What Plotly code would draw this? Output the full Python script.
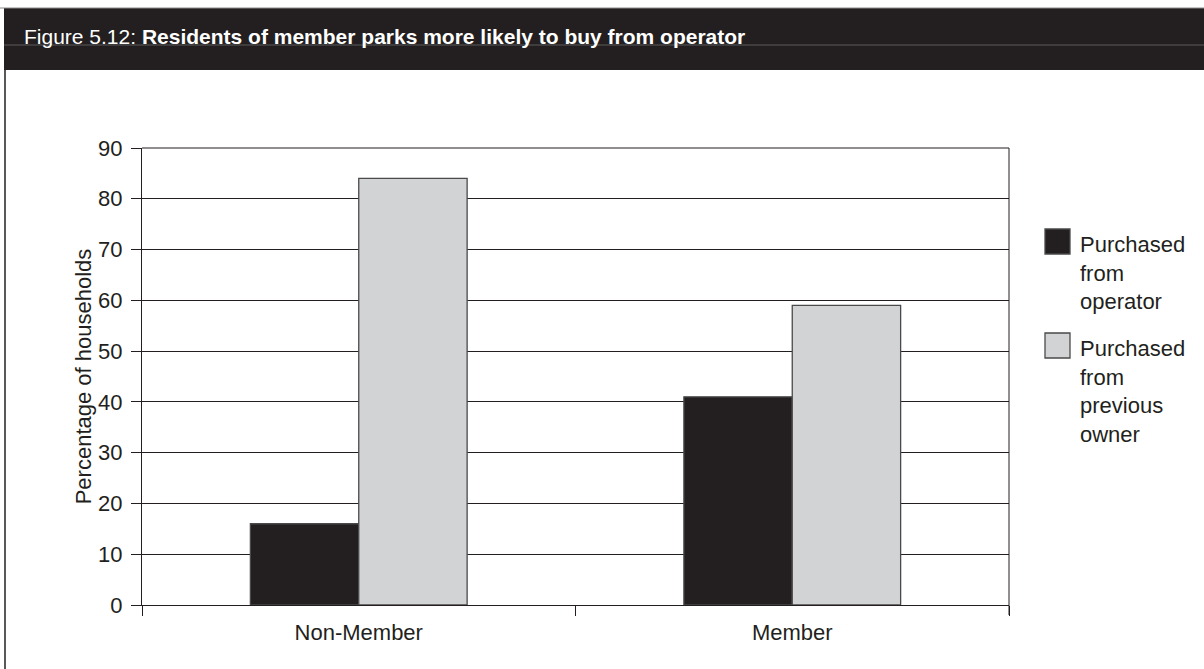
import plotly.graph_objects as go

# Survey results: where residents bought their home, by park membership
categories = ["Non-Member", "Member"]
from_operator = [16, 41]
from_previous_owner = [84, 59]
series_names = ["Purchased<br>from<br>operator",
                "Purchased<br>from<br>previous<br>owner"]
y_ticks = [0, 10, 20, 30, 40, 50, 60, 70, 80, 90]

W, H = 1204, 669
M_L, M_R, M_T, M_B = 142, 195, 148, 64
PW, PH = W - M_L - M_R, H - M_T - M_B

INK = "#231f20"
LIGHT = "#d1d3d4"
EDGE = "#4a4a4a"
FONT = "Liberation Sans, Arial, sans-serif"


def px_x(px):
    return (px - M_L) / PW


def px_y(py):
    return (H - M_B - py) / PH


fig = go.Figure()
fig.add_trace(go.Bar(
    x=categories, y=from_operator, name=series_names[0], showlegend=False,
    marker=dict(color=INK, line=dict(color=EDGE, width=1.3)),
))
fig.add_trace(go.Bar(
    x=categories, y=from_previous_owner, name=series_names[1], showlegend=False,
    marker=dict(color=LIGHT, line=dict(color=EDGE, width=1.3)),
))

shapes = [
    # header band
    dict(type="rect", xref="paper", yref="paper",
         x0=px_x(4), x1=px_x(W + 2), y0=px_y(70), y1=px_y(8),
         fillcolor=INK, line=dict(width=0), layer="above"),
    dict(type="line", xref="paper", yref="paper",
         x0=px_x(0), x1=px_x(W), y0=px_y(8), y1=px_y(8),
         line=dict(color="#8a8a8a", width=1), layer="above"),
    dict(type="line", xref="paper", yref="paper",
         x0=px_x(4), x1=px_x(W), y0=px_y(45), y1=px_y(45),
         line=dict(color="#5a5a5a", width=1), layer="above"),
    # left border of the figure box
    dict(type="line", xref="paper", yref="paper",
         x0=px_x(5), x1=px_x(5), y0=px_y(70), y1=px_y(H),
         line=dict(color=INK, width=1.5)),
    # plot frame: top and right edges
    dict(type="line", xref="paper", yref="paper",
         x0=0, x1=1, y0=1, y1=1, line=dict(color=INK, width=1)),
    dict(type="line", xref="paper", yref="paper",
         x0=1, x1=1, y0=px_y(615), y1=1, line=dict(color=INK, width=1)),
]

annotations = [
    dict(xref="paper", yref="paper", x=px_x(22), y=px_y(37),
         xanchor="left", yanchor="middle", showarrow=False,
         text="Figure 5.12: <b>Residents of member parks more likely to buy from operator</b>",
         font=dict(family=FONT, size=21, color="white")),
]

# legend: swatch + multi-line label for each series
legend_rows = [(229, INK, series_names[0]), (333, LIGHT, series_names[1])]
for top, colour, label in legend_rows:
    shapes.append(dict(type="rect", xref="paper", yref="paper",
                       x0=px_x(1045), x1=px_x(1070),
                       y0=px_y(top + 25), y1=px_y(top),
                       fillcolor=colour, line=dict(color=EDGE, width=1.3)))
    annotations.append(dict(xref="paper", yref="paper",
                            x=px_x(1078), y=px_y(top + 1),
                            xanchor="left", yanchor="top", align="left",
                            showarrow=False, text=label,
                            font=dict(family=FONT, size=22, color=INK)))

fig.update_layout(
    width=W, height=H,
    margin=dict(l=M_L, r=M_R, t=M_T, b=M_B, autoexpand=False),
    paper_bgcolor="white", plot_bgcolor="white",
    barmode="group", bargap=0.5, bargroupgap=0,
    font=dict(family=FONT, color=INK, size=22),
    showlegend=False,
    shapes=shapes, annotations=annotations,
)
fig.update_xaxes(
    showline=True, linecolor=INK, linewidth=1,
    ticks="outside", tickson="boundaries", ticklen=10, tickcolor=INK,
    ticklabelstandoff=8,
    tickfont=dict(size=22, color=INK), showgrid=False,
)
fig.update_yaxes(
    range=[0, 90], tickvals=y_ticks,
    showline=True, linecolor=INK, linewidth=1,
    ticks="outside", ticklen=10, tickcolor=INK, ticklabelstandoff=4,
    showgrid=True, gridcolor=INK, gridwidth=1, zeroline=False,
    tickfont=dict(size=22, color=INK),
    title=dict(text="Percentage of households", standoff=0,
               font=dict(size=22, color=INK)),
)

fig.write_html("out.html")
